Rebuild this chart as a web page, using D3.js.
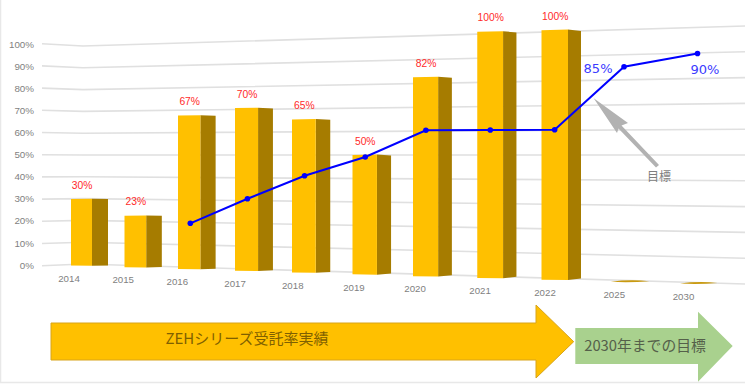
<!DOCTYPE html>
<html lang="ja">
<head>
<meta charset="utf-8">
<script src="https://cdn.jsdelivr.net/npm/d3@7"></script>
<style>
  html, body { margin: 0; padding: 0; background: #fff; }
  svg { display: block; }
  text { font-family: "Liberation Sans", Arial, sans-serif; }
  .cjk { font-family: "Noto Sans CJK JP", sans-serif; }
</style>
</head>
<body>
<script>
const categories = ["2014", "2015", "2016", "2017", "2018", "2019", "2020", "2021", "2022", "2025", "2030"];
const actual = [0.30, 0.23, 0.67, 0.70, 0.65, 0.50, 0.82, 1.00, 1.00, 0, 0];         // bars
const actualLabels = ["30%", "23%", "67%", "70%", "65%", "50%", "82%", "100%", "100%", "", ""];
const trend = [null, null, 0.20, 0.31, 0.41, 0.49, 0.60, 0.60, 0.60, 0.85, 0.90];     // blue line
const trendLabels = [["85%", 9], ["90%", 10]];
const yTicks = [0, 0.1, 0.2, 0.3, 0.4, 0.5, 0.6, 0.7, 0.8, 0.9, 1];

const dim = {width: 745, height: 391};

const svg = d3.select("body").append("svg")
              .attr("width", dim.width).attr("height", dim.height);

// the chart is a tilted 3D one, so every category has its own baseline and height scale
const idx = categories.map((d, i) => i);
const barLeft = d3.scaleLinear().domain([0, 2, 4, 6, 8, 10]).range([71, 178, 292, 413, 541.5, 680]);
const barWidth = d3.scaleLinear().domain([0, 8]).range([21, 26.5]).clamp(true);
const sideWidth = d3.scaleLinear().domain([0, 8, 10]).range([16, 13, 11]);
const baseY = d3.scaleLinear().domain([0, 8, 10]).range([265.7, 280, 283.5]);
const unitH = d3.scaleLinear().domain([0, 8, 10]).range([223, 250.5, 255.5]);
const sideTilt = d3.scaleLinear().domain([0, 8]).range([0.3, 1.5]).clamp(true);
const pointShift = d3.scaleLinear().domain([2, 9, 10]).range([12.3, 13.3, 17.5]);
const catShift = d3.scaleLinear().domain([0, 8]).range([-2, 3.5]).clamp(true);

const topY = (i, v) => baseY(i) - v * unitH(i);

// back wall gridlines, bent at the corner
const wallX = [42, 83, 745];
const wallBase = d3.scaleLinear().domain(wallX).range([265.7, 264, 284]);
const wallSpan = d3.scaleLinear().domain(wallX).range([222, 218, 258]);
const gridLine = d3.line().x(d => d.x).y(d => wallBase(d.x) - d.v * wallSpan(d.x));

svg.append("path")
   .attr("d", `M0.5,0V382.5H${dim.width}`)
   .attr("fill", "none").attr("stroke", "#e8e8e8").attr("stroke-width", 1.5);

svg.selectAll("path.grid")
   .data(yTicks)
   .join("path").attr("class", "grid")
     .attr("d", v => gridLine(wallX.map(x => ({x, v}))))
     .attr("fill", "none").attr("stroke", "#e0e0e0").attr("stroke-width", 1.6);

// y axis
const yLeft = d3.scaleLinear().domain([0, 1]).range([265, 44]);
const yAxis = svg.append("g")
    .attr("transform", "translate(42,0)")
    .call(d3.axisLeft(yLeft).tickValues(yTicks).tickFormat(d3.format(".0%")).tickSize(0).tickPadding(8));
yAxis.select(".domain").remove();
yAxis.selectAll("text").attr("fill", "#7f7f7f").style("font-size", "9.8px")
     .style("font-family", '"Liberation Sans", Arial, sans-serif');

// bars
const bars = svg.selectAll("g.bar")
    .data(idx.filter(i => actual[i] > 0))
    .join("g").attr("class", "bar");

bars.append("path")
    .attr("fill", "#a67c00")
    .attr("d", i => {
        const x1 = barLeft(i) + barWidth(i), x2 = x1 + sideWidth(i), t = sideTilt(i);
        return `M${x1},${topY(i, actual[i])}L${x2},${topY(i, actual[i]) + t}` +
               `L${x2},${baseY(i) - t}L${x1},${baseY(i)}Z`;
    });

bars.append("path")
    .attr("fill", "#ffc000")
    .attr("d", i => {
        const x0 = barLeft(i), x1 = x0 + barWidth(i), y = topY(i, actual[i]);
        return `M${x0},${y + sideTilt(i) / 2}L${x1},${y}L${x1},${baseY(i)}L${x0},${baseY(i) - 0.3}Z`;
    });

// the two empty years only show as a thin sliver on the floor
svg.selectAll("path.sliver")
   .data(idx.filter(i => actual[i] === 0))
   .join("path").attr("class", "sliver")
     .attr("fill", "#c99a10")
     .attr("d", i => {
        const x0 = barLeft(i), x1 = x0 + barWidth(i) + sideWidth(i), y = baseY(i);
        return `M${x0},${y}Q${(x0 + x1) / 2},${y - 2.6} ${x1},${y - 0.6}Q${(x0 + x1) / 2},${y + 1} ${x0},${y}Z`;
     });

// data labels
svg.selectAll("text.bar-label")
   .data(idx.filter(i => actualLabels[i]))
   .join("text").attr("class", "bar-label")
     .attr("x", i => barLeft(i) + barWidth(i) / 2 + 0.5)
     .attr("y", i => topY(i, actual[i]) - 10)
     .attr("text-anchor", "middle")
     .attr("fill", "#ff2a2a").attr("font-size", 10.3)
     .text(i => actualLabels[i]);

// category labels
svg.selectAll("text.cat")
   .data(idx)
   .join("text").attr("class", "cat")
     .attr("x", i => barLeft(i) + catShift(i))
     .attr("y", i => baseY(i) + 16)
     .attr("text-anchor", "middle")
     .attr("fill", "#7f7f7f").attr("font-size", 9.7)
     .text(i => categories[i]);

// target line
const px = i => barLeft(i) + pointShift(i);
const trendIdx = idx.filter(i => trend[i] !== null);
const line = d3.line().x(px).y(i => topY(i, trend[i]));

svg.append("path")
   .datum(trendIdx)
   .attr("d", line)
   .attr("fill", "none").attr("stroke", "#0000ff").attr("stroke-width", 2);

svg.selectAll("circle.pt")
   .data(trendIdx)
   .join("circle").attr("class", "pt")
     .attr("cx", px)
     .attr("cy", i => topY(i, trend[i]))
     .attr("r", 2.8)
     .attr("fill", "#0000ff");

svg.selectAll("text.trend-label")
   .data(trendLabels)
   .join("text").attr("class", "trend-label")
     .attr("x", d => px(d[1]) + (d[1] === 9 ? -26 : 7.5))
     .attr("y", d => d[1] === 9 ? 73 : 73.5)
     .attr("text-anchor", "middle")
     .attr("fill", "#3b3bff").attr("font-size", 13)
     .style("font-family", '"DejaVu Sans", sans-serif')
     .text(d => d[0]);

// callout arrow
svg.append("path")
   .attr("d", "M593.7,98.3L628,123L621.5,125.5L659,165L656,167.5L618.5,128.5L617,133Z")
   .attr("fill", "#b2b2b2");
svg.append("text").attr("class", "cjk")
   .attr("x", 659).attr("y", 180.5)
   .attr("text-anchor", "middle").attr("fill", "#7f7f7f").attr("font-size", 12)
   .text("目標");

// bottom block arrows
svg.append("path")
   .attr("d", "M51,323H536V305L573.7,341.7L536,378V360H51Z")
   .attr("fill", "#ffc000").attr("stroke", "#d8a41a").attr("stroke-width", 1);
svg.append("text").attr("class", "cjk")
   .attr("x", 247).attr("y", 343.5)
   .attr("text-anchor", "middle").attr("fill", "#7f6000").attr("font-size", 15)
   .text("ZEHシリーズ受託率実績");

svg.append("path")
   .attr("d", "M575.3,328H698V311.7L732.7,346L698,381.7V364H575.3Z")
   .attr("fill", "#a9d18e");
svg.append("text").attr("class", "cjk")
   .attr("x", 645).attr("y", 350.5)
   .attr("text-anchor", "middle").attr("fill", "#55604a").attr("font-size", 14.8)
   .text("2030年までの目標");
</script>
</body>
</html>
